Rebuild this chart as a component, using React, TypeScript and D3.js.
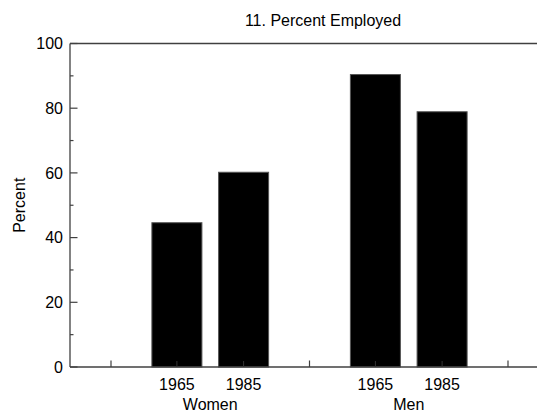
import React from "react";
import * as d3 from "d3";

const title = "11. Percent Employed";
const yLabel = "Percent";
const groups = ["Women", "Men"];
const years = ["1965", "1985"];
const womenValues = [44.6, 60.2];
const menValues = [90.4, 78.9];
const yMajorTicks = [0, 20, 40, 60, 80, 100];
const yMinorTicks = [10, 30, 50, 70, 90];

const W = 537;
const H = 412;
const left = 70;
const right = 549;
const top = 43.5;
const bottom = 367;
const FONT = "'Liberation Sans', Arial, Helvetica, sans-serif";
const AXIS = "#404040";
const txt: React.CSSProperties = { fontFamily: FONT, fontSize: "16px" };

export default function App() {
  const seriesByGroup: Record<string, number[]> = { Women: womenValues, Men: menValues };
  const y = d3.scaleLinear().domain([0, 100]).range([bottom, top]);
  const xOuter = d3.scaleBand<string>().domain(groups).range([111, 508]).padding(0);
  const xInner = d3
    .scaleBand<string>()
    .domain(years)
    .range([0, xOuter.bandwidth()])
    .paddingInner(0.25)
    .paddingOuter(0.613);

  const groupEdges = [
    ...groups.map((g) => xOuter(g) as number),
    (xOuter(groups[groups.length - 1]) as number) + xOuter.bandwidth(),
  ];

  return (
    <svg
      width={W}
      height={H}
      style={{ position: "absolute", left: 0, top: 0, background: "#fff" }}
    >
      <rect x={0} y={0} width={W} height={H} fill="#fff" />
      <text x={323} y={26} textAnchor="middle" style={txt} fill="#000">
        {title}
      </text>
      {groups.map((g) =>
        years.map((yr, i) => {
          const v = seriesByGroup[g][i];
          const x0 = (xOuter(g) as number) + (xInner(yr) as number);
          return (
            <rect
              key={g + yr}
              x={x0}
              y={y(v)}
              width={xInner.bandwidth()}
              height={y(0) - y(v)}
              fill="#000"
              stroke="#555"
              strokeWidth={1}
            />
          );
        })
      )}
      <line x1={left} x2={right} y1={top} y2={top} stroke={AXIS} strokeWidth={1.3} />
      <line x1={left} x2={right} y1={bottom} y2={bottom} stroke={AXIS} strokeWidth={1.3} />
      <line x1={left} x2={left} y1={top} y2={bottom} stroke={AXIS} strokeWidth={1.3} />
      {yMajorTicks.map((t) => (
        <g key={"M" + t}>
          <line x1={left} x2={left + 7.5} y1={y(t)} y2={y(t)} stroke={AXIS} strokeWidth={1.2} />
          <text x={63} y={y(t)} dy="0.36em" textAnchor="end" style={txt} fill="#000">
            {t}
          </text>
        </g>
      ))}
      {yMinorTicks.map((t) => (
        <line key={"m" + t} x1={left} x2={left + 3.5} y1={y(t)} y2={y(t)} stroke={AXIS} strokeWidth={1.2} />
      ))}
      {groupEdges.map((gx, i) => (
        <line key={"ge" + i} x1={gx} x2={gx} y1={bottom} y2={bottom - 6.5} stroke={AXIS} strokeWidth={1.2} />
      ))}
      {groups.map((g) =>
        years.map((yr) => {
          const cx = (xOuter(g) as number) + (xInner(yr) as number) + xInner.bandwidth() / 2;
          return (
            <g key={"t" + g + yr}>
              <line x1={cx} x2={cx} y1={bottom} y2={bottom - 6} stroke="#333" strokeWidth={1} />
              <text x={cx} y={389.5} textAnchor="middle" style={txt} fill="#000">
                {yr}
              </text>
            </g>
          );
        })
      )}
      {groups.map((g) => (
        <text
          key={"g" + g}
          x={(xOuter(g) as number) + xOuter.bandwidth() / 2}
          y={410}
          textAnchor="middle"
          style={txt}
          fill="#000"
        >
          {g}
        </text>
      ))}
      <text
        transform={`translate(25,${(top + bottom) / 2}) rotate(-90)`}
        textAnchor="middle"
        style={txt}
        fill="#000"
      >
        {yLabel}
      </text>
    </svg>
  );
}
